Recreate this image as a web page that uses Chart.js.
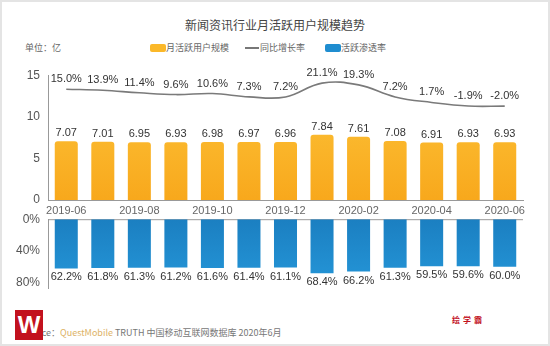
<!DOCTYPE html>
<html><head><meta charset="utf-8">
<script src="https://cdn.jsdelivr.net/npm/chart.js@4.4.1/dist/chart.umd.min.js"></script>
<style>
html,body{margin:0;padding:0;background:#fff;}
#wrap{position:relative;width:550px;height:346px;overflow:hidden;font-family:"Noto Sans CJK SC","Liberation Sans",sans-serif;}
#frame{position:absolute;left:0;top:0;width:546px;height:342px;border:2px solid #e4e4e4;}
.abs{position:absolute;white-space:nowrap;}
canvas{position:absolute;left:0;}
</style></head>
<body><div id="wrap">
<div id="frame"></div>
<div class="abs" style="left:0;width:550px;top:16px;text-align:center;font-size:12px;color:#444;">新闻资讯行业月活跃用户规模趋势</div>
<div class="abs" style="left:25px;top:41px;font-size:9px;color:#666;">单位：亿</div>
<div class="abs" style="left:150px;top:44px;width:16px;height:8px;background:#FBB829;border-radius:2px;"></div>
<div class="abs" style="left:166px;top:41px;font-size:9px;color:#666;">月活跃用户规模</div>
<div class="abs" style="left:245px;top:47px;width:14px;height:1.5px;background:#777;"></div>
<div class="abs" style="left:260px;top:41px;font-size:9px;color:#666;">同比增长率</div>
<div class="abs" style="left:325px;top:44px;width:16px;height:8px;background:#1F8DD0;border-radius:2px;"></div>
<div class="abs" style="left:341px;top:41px;font-size:9px;color:#666;">活跃渗透率</div>
<canvas id="top" width="550" height="160" style="top:60px;"></canvas>
<canvas id="bot" width="550" height="100" style="top:204px;"></canvas>
<div class="abs" style="left:22px;top:326px;font-size:9px;color:#777;">Source：<span style="color:#DDB266;">QuestMobile</span> TRUTH 中国移动互联网数据库 2020年6月</div>
<div class="abs" style="left:15px;top:310px;width:28px;height:30px;background:#C2111E;color:#fff;font-family:'Liberation Sans',sans-serif;font-weight:bold;font-size:24px;line-height:30px;text-align:center;">W</div>
<div class="abs" style="left:452px;top:314px;font-size:8px;font-weight:bold;color:#C2111E;letter-spacing:3px;">绘学霸</div>
</div>
<script>
const months = ['2019-06','2019-07','2019-08','2019-09','2019-10','2019-11','2019-12','2020-01','2020-02','2020-03','2020-04','2020-05','2020-06'];
const mau = [7.07,7.01,6.95,6.93,6.98,6.97,6.96,7.84,7.61,7.08,6.91,6.93,6.93];
const yoy = [15.0,13.9,11.4,9.6,10.6,7.3,7.2,21.1,19.3,7.2,1.7,-1.9,-2.0];
const penetration = [62.2,61.8,61.3,61.2,61.6,61.4,61.1,68.4,66.2,61.3,59.5,59.6,60.0];
const mauTicks = [0,5,10,15];
const penTicks = [0,40,80];

const numFont = '11px "Liberation Sans", Arial, sans-serif';
const tickFont = {size:12,family:'"Liberation Sans", Arial, sans-serif'};

function grad(ctx, c1, c2){
  const ch = ctx.chart; const a = ch.chartArea;
  if(!a) return c1;
  const g = ch.ctx.createLinearGradient(0,a.top,0,a.bottom);
  g.addColorStop(0,c1); g.addColorStop(1,c2); return g;
}

const topLabels = {
  id:'topLabels',
  afterDatasetsDraw(chart){
    const c = chart.ctx; c.save();
    c.font = numFont; c.fillStyle = '#333'; c.textAlign='center'; c.textBaseline='middle';
    chart.getDatasetMeta(0).data.forEach((b,i)=>{ c.fillText(mau[i].toFixed(2), b.x, b.y-8); });
    chart.getDatasetMeta(1).data.forEach((p,i)=>{ c.fillText(yoy[i].toFixed(1)+'%', p.x, p.y-10); });
    c.restore();
  }
};
const botLabels = {
  id:'botLabels',
  beforeDatasetsDraw(chart){
    const c = chart.ctx, a = chart.chartArea; c.save();
    c.strokeStyle = '#999'; c.lineWidth = 1;
    c.beginPath(); c.moveTo(a.left, a.top+0.5); c.lineTo(a.right, a.top+0.5); c.stroke();
    c.restore();
  },
  afterDatasetsDraw(chart){
    const c = chart.ctx; c.save();
    c.font = numFont; c.fillStyle = '#333'; c.textAlign='center'; c.textBaseline='middle';
    chart.getDatasetMeta(0).data.forEach((b,i)=>{ c.fillText(penetration[i].toFixed(1)+'%', b.x, b.y+9); });
    c.restore();
  }
};

new Chart(document.getElementById('top'), {
  data:{
    labels: months,
    datasets:[
      {type:'bar', data: mau, yAxisID:'y', backgroundColor:(ctx)=>grad(ctx,'#FDC63C','#F8A81C'),
       borderRadius:{topLeft:3,topRight:3,bottomLeft:0,bottomRight:0}, borderSkipped:'start',
       barPercentage:0.63, categoryPercentage:1, order:2},
      {type:'line', data: yoy, yAxisID:'y1', borderColor:'#7a7a7a', borderWidth:1.6, pointRadius:0, tension:0.4, fill:false, order:1}
    ]
  },
  options:{
    responsive:false, animation:false, devicePixelRatio:1,
    layout:{padding:{top:15,right:27,left:0,bottom:0}},
    plugins:{legend:{display:false}, tooltip:{enabled:false}},
    scales:{
      x:{grid:{display:false,drawTicks:false}, border:{display:true,color:'#999'},
         ticks:{autoSkip:false,maxRotation:0,padding:4,color:'#666',font:{size:11,family:'"Liberation Sans", Arial, sans-serif'},
           callback:(v,i)=> i%2===0 ? months[i] : ''},
         afterFit:(s)=>{s.height=20;}},
      y:{min:0,max:15, grid:{display:false,drawTicks:false}, border:{display:true,color:'#999'},
         afterBuildTicks:(s)=>{s.ticks = mauTicks.map(v=>({value:v}));},
         ticks:{padding:8,color:'#555',font:tickFont},
         afterFit:(s)=>{s.width=48;}},
      y1:{display:false, min:-96, max:29}
    }
  },
  plugins:[topLabels]
});

new Chart(document.getElementById('bot'), {
  type:'bar',
  data:{labels: months, datasets:[{data: penetration, backgroundColor:(ctx)=>grad(ctx,'#1B7FC1','#2597D9'),
     borderRadius:{topLeft:3,topRight:3,bottomLeft:0,bottomRight:0}, borderSkipped:'start',
     barPercentage:0.63, categoryPercentage:1}]},
  options:{
    responsive:false, animation:false, devicePixelRatio:1,
    layout:{padding:{top:0,right:27,left:0,bottom:0}},
    plugins:{legend:{display:false}, tooltip:{enabled:false}},
    scales:{
      x:{display:false},
      y:{reverse:true, min:0, max:88, grid:{display:false,drawTicks:false}, border:{display:true,color:'#999'},
         afterBuildTicks:(s)=>{s.ticks = penTicks.map(v=>({value:v}));},
         ticks:{padding:8,color:'#555',font:tickFont, callback:(v)=>v+'%'},
         afterFit:(s)=>{s.width=48;}}
    }
  },
  plugins:[botLabels]
});
</script>
</body></html>
